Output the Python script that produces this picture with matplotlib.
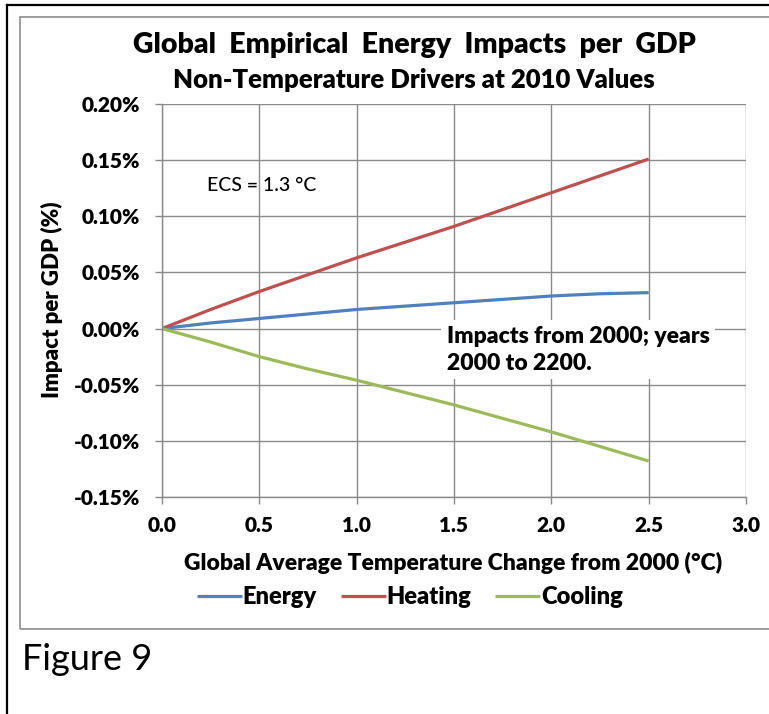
import matplotlib.pyplot as plt
from matplotlib.lines import Line2D
from matplotlib.patches import Rectangle
from matplotlib.ticker import FuncFormatter, MultipleLocator

# Data (impact in % of GDP)
temp_change = [0.0, 0.25, 0.5, 0.75, 1.0, 1.25, 1.5, 1.75, 2.0, 2.25, 2.5]
energy = [0.0, 0.005, 0.009, 0.013, 0.017, 0.020, 0.023, 0.026, 0.029, 0.031, 0.032]
heating = [0.0, 0.017, 0.033, 0.048, 0.063, 0.077, 0.091, 0.106, 0.121, 0.136, 0.151]
cooling = [0.0, -0.012, -0.025, -0.036, -0.046, -0.057, -0.068, -0.080, -0.092, -0.105, -0.118]

series_names = ["Energy", "Heating", "Cooling"]
series_colors = ["#4F81BD", "#C0504D", "#9BBB59"]

plt.rcParams['font.family'] = ['Lato', 'DejaVu Sans']
BOLD = 'heavy'

W, H = 769, 714
fig = plt.figure(figsize=(W / 100, H / 100), dpi=100)

# outer black frame (cut at right / bottom) and grey chart frame
fig.add_artist(Line2D([7 / W, 7 / W], [0, 1 - 5 / H], color='black', lw=1.6))
fig.add_artist(Line2D([7 / W, 1], [1 - 5 / H, 1 - 5 / H], color='black', lw=1.6))
fig.add_artist(Rectangle((20 / W, 1 - 629 / H), 760 / W, 612 / H, fill=False,
                         edgecolor='#8c8c8c', lw=1.2))

ax = fig.add_axes([162 / W, 1 - 497 / H, (746 - 162) / W, (497 - 104) / H])

for vals, name, col in zip([energy, heating, cooling], series_names, series_colors):
    ax.plot(temp_change, vals, color=col, lw=2.3, label=name, solid_capstyle='butt')

ax.set_xlim(0, 3.0)
ax.set_ylim(-0.15, 0.20)
ax.xaxis.set_major_locator(MultipleLocator(0.5))
ax.yaxis.set_major_locator(MultipleLocator(0.05))
ax.xaxis.set_major_formatter(FuncFormatter(lambda v, p: f"{v:.1f}"))
ax.yaxis.set_major_formatter(FuncFormatter(lambda v, p: f"{v:.2f}%"))
ax.grid(True, color='#8a8a8a', lw=1.0)
ax.set_axisbelow(True)
for s in ['top', 'right']:
    ax.spines[s].set_visible(False)
for s in ['left', 'bottom']:
    ax.spines[s].set_color('#8a8a8a')
    ax.spines[s].set_linewidth(1.0)
ax.tick_params(axis='both', direction='out', length=5, width=1.0, color='#8a8a8a',
               labelsize=15)
ax.tick_params(axis='x', pad=9)
ax.tick_params(axis='y', pad=11)
for lab in ax.get_xticklabels() + ax.get_yticklabels():
    lab.set_fontweight(BOLD)

ax.set_xlabel("Global Average Temperature Change from 2000 (°C)", fontsize=16.5,
              fontweight=BOLD)
ax.xaxis.set_label_coords((453 - 162) / 584, (497 - 563) / 393)
ax.xaxis.label.set_va('center')
ax.set_ylabel("Impact per GDP (%)", fontsize=16, fontweight=BOLD)
ax.yaxis.set_label_coords((52 - 162) / 584, (497 - 300) / 393)
ax.yaxis.label.set_va('center')

ax.text(0.231, 0.127, "ECS = 1.3 °C", fontsize=14, va='center', fontweight='medium')
ax.text(1.464, 0.0025, "Impacts from 2000; years\n2000 to 2200.", fontsize=16.5,
        fontweight=BOLD, va='top', linespacing=1.35,
        bbox=dict(facecolor='white', edgecolor='none', pad=4))

fig.text(414 / W, 1 - 45 / H, "Global  Empirical  Energy  Impacts  per  GDP",
         ha='center', va='center', fontsize=20.5, fontweight=BOLD)
fig.text(414 / W, 1 - 80 / H, "Non-Temperature Drivers at 2010 Values",
         ha='center', va='center', fontsize=18.5, fontweight=BOLD)

fig.legend(loc='center', bbox_to_anchor=(410 / W, 1 - 597 / H), ncol=3,
           frameon=False, prop={'weight': BOLD, 'size': 17},
           handlelength=1.9, handletextpad=0.05, columnspacing=1.0)

fig.text(22 / W, 1 - 660 / H, "Figure 9", fontsize=26, va='center', ha='left')

fig.savefig("out.png", dpi=100)
